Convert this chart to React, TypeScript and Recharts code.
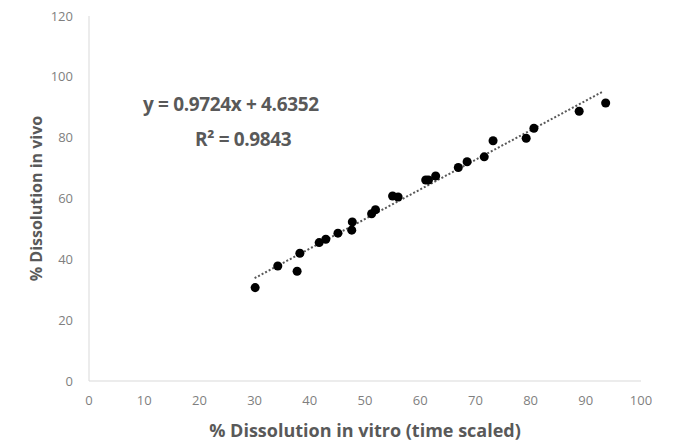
import { ScatterChart, Scatter, XAxis, YAxis } from "recharts";

const vitro = [30.1, 34.2, 37.7, 38.2, 41.7, 42.9, 45.1, 47.6, 47.7, 51.2, 51.9, 55.0, 56.0, 61.0, 61.5, 62.8, 66.9, 68.5, 71.6, 73.2, 79.2, 80.6, 88.8, 93.6];
const vivo = [30.7, 37.8, 36.1, 42.0, 45.5, 46.6, 48.6, 49.6, 52.3, 55.0, 56.3, 60.8, 60.5, 66.1, 66.1, 67.4, 70.2, 72.1, 73.7, 79.0, 79.8, 83.1, 88.7, 91.4];

const xTicks = [0, 10, 20, 30, 40, 50, 60, 70, 80, 90, 100];
const yTicks = [0, 20, 40, 60, 80, 100, 120];

// trendline from the fitted equation shown on the chart
const slope = 0.9724;
const intercept = 4.6352;
const trendX = [30, 93.2];

const points = vitro.map((x, i) => ({ x, y: vivo[i] }));
const trend = trendX.map((x) => ({ x, y: slope * x + intercept }));

const grey = "#595959";
const tickStyle = { fill: "#7f7f7f", fontSize: 13, fontFamily: "Open Sans" };

export default function App() {
  return (
    <div style={{ position: "absolute", left: 0, top: 0, width: 673, height: 441, background: "#fff" }}>
      <ScatterChart width={673} height={441} margin={{ top: 16, right: 32, left: 39, bottom: 10 }}>
        <XAxis
          type="number"
          dataKey="x"
          domain={[0, 100]}
          ticks={xTicks}
          tickLine={false}
          tickMargin={9}
          height={50}
          stroke="#d9d9d9"
          tick={tickStyle}
          label={{
            value: "% Dissolution in vitro (time scaled)",
            position: "insideBottom",
            offset: -6,
            fill: grey,
            fontSize: 18,
            fontWeight: "bold",
            fontFamily: "Open Sans",
          }}
        />
        <YAxis
          type="number"
          dataKey="y"
          domain={[0, 120]}
          ticks={yTicks}
          tickLine={false}
          tickMargin={10}
          width={50}
          stroke="#d9d9d9"
          tick={tickStyle}
          label={{
            value: "% Dissolution in vivo",
            angle: -90,
            position: "insideLeft",
            offset: -3,
            style: { textAnchor: "middle" },
            fill: grey,
            fontSize: 16,
            fontWeight: "bold",
            fontFamily: "Open Sans",
          }}
        />
        <Scatter
          data={trend}
          line={{ stroke: grey, strokeWidth: 2, strokeDasharray: "2 2" }}
          shape={() => null}
          isAnimationActive={false}
        />
        <Scatter data={points} fill="#000" shape="circle" isAnimationActive={false} />
        <text x={143} y={111} fill={grey} fontSize={19} fontWeight="bold" fontFamily="Open Sans" letterSpacing={-0.35}>
          y = 0.9724x + 4.6352
        </text>
        <text x={195} y={146} fill={grey} fontSize={19} fontWeight="bold" fontFamily="Open Sans" letterSpacing={-0.35}>
          R² = 0.9843
        </text>
      </ScatterChart>
    </div>
  );
}
